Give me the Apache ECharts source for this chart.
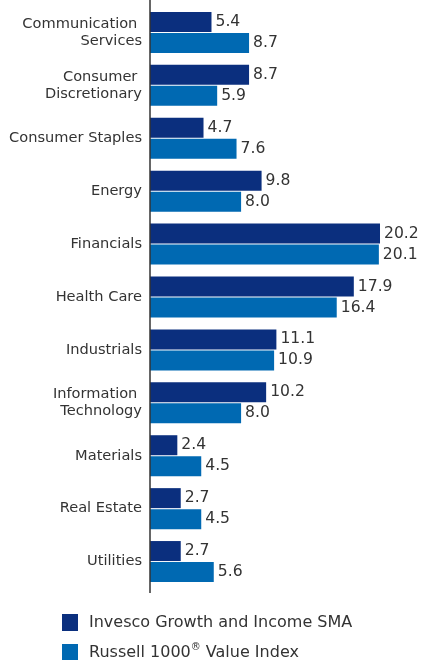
<!DOCTYPE html>
<html>
<head>
<meta charset="utf-8">
<script src="https://cdn.jsdelivr.net/npm/echarts@6/dist/echarts.min.js"></script>
<style>html,body{margin:0;padding:0;background:#fff;}#c{width:422px;height:660px;}</style>
</head>
<body>
<div id="c"></div>
<script>
const categories = ['Communication \nServices','Consumer \nDiscretionary','Consumer Staples','Energy','Financials','Health Care','Industrials','Information \nTechnology','Materials','Real Estate','Utilities'];
const invesco = [5.4, 8.7, 4.7, 9.8, 20.2, 17.9, 11.1, 10.2, 2.4, 2.7, 2.7];
const russell = [8.7, 5.9, 7.6, 8.0, 20.1, 16.4, 10.9, 8.0, 4.5, 4.5, 5.6];
const seriesNames = ['Invesco Growth and Income SMA', 'Russell 1000® Value Index'];

const FONT = 'DejaVu Sans';
const FS = 14.6;
const chart = echarts.init(document.getElementById('c'));
const lbl = {show: true, position: 'right', distance: 4, color: '#333', fontSize: 15.6, fontFamily: FONT, formatter: p => p.value.toFixed(1)};
const legendBase = {
  orient: 'vertical', left: 62, padding: 0, itemWidth: 16, itemHeight: 17,
  icon: 'rect',
  textStyle: {color: '#333', fontSize: 16, fontFamily: FONT, lineHeight: 17, padding: [0, 0, 0, 6], rich: {sup: {fontSize: 10, lineHeight: 17, padding: [0,0,11,0], color: '#333', fontFamily: FONT}}},
  formatter: n => n.replace('®', '{sup|®}')
};
chart.setOption({
  animation: false,
  grid: {left: 150, top: 6, width: 250.5, height: 582},
  xAxis: {type: 'value', min: 0, max: 22, show: false},
  yAxis: {
    type: 'category', data: categories, inverse: true,
    axisLine: {show: false},
    axisTick: {show: false},
    axisLabel: {color: '#333', fontSize: FS, fontFamily: FONT, lineHeight: 17, margin: 8}
  },
  graphic: [{type: 'line', z: 10, shape: {x1: 150, y1: 0, x2: 150, y2: 593}, style: {stroke: '#333', lineWidth: 1.5}}],
  legend: [
    Object.assign({}, legendBase, {top: 614, data: [seriesNames[0]]}),
    Object.assign({}, legendBase, {top: 642, data: [seriesNames[1]]})
  ],
  series: [
    {name: seriesNames[0], type: 'bar', data: invesco, barWidth: 20, barGap: '5%', itemStyle: {color: '#0b2f7e'}, label: lbl},
    {name: seriesNames[1], type: 'bar', data: russell, barWidth: 20, barGap: '5%', itemStyle: {color: '#0069b2'}, label: lbl}
  ]
});
</script>
</body>
</html>
